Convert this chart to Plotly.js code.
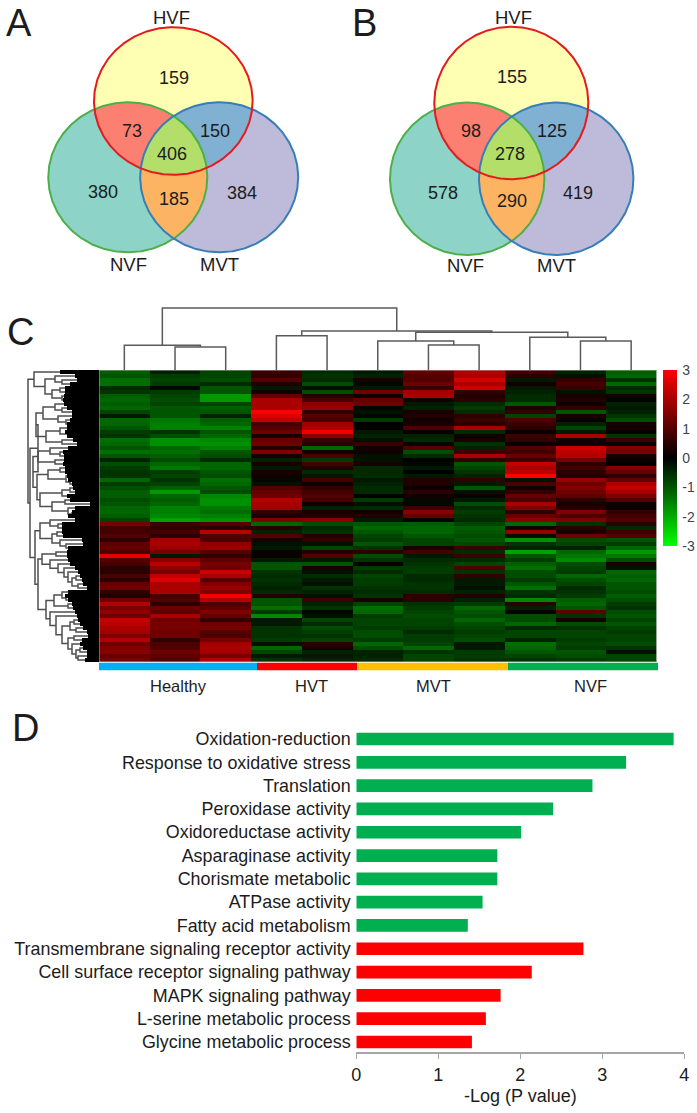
<!DOCTYPE html>
<html><head><meta charset="utf-8">
<script src="https://cdn.plot.ly/plotly-3.0.1.min.js"></script>
<style>html,body{margin:0;padding:0;background:#fff}</style></head>
<body><div id="chart" style="width:697px;height:1113px"></div>
<script>
// ---------- Panel A / B values ----------
const vennCountsA = [159, 73, 150, 406, 380, 185, 384];
const vennCountsB = [155, 98, 125, 278, 578, 290, 419];
const vennSets = ['HVF', 'NVF', 'MVT'];

// ---------- Panel C values (one array per sample, rows top to bottom) ----------
const healthy1 = [-1.1,-1.0,-1.3,-1.3,-0.5,-0.6,-1.1,-1.2,-1.1,-1.2,-0.8,-0.3,-1.2,-1.2,-1.0,-0.7,-0.6,-1.3,-1.2,-1.0,-1.3,-1.0,-0.4,-0.9,
 -0.7,-0.6,-0.6,-1.2,-0.7,-0.9,-1.1,-1.1,-0.9,-1.0,-1.2,-1.2,-1.1,-0.8,1.4,0.8,0.8,1.0,0.5,1.1,1.2,0.9,2.7,1.0,0.8,
 0.5,0.5,0.9,0.5,1.2,1.3,0.6,0.4,1.3,2.1,1.4,1.7,1.3,2.3,2.2,2.0,1.9,1.5,2.1,1.3,1.5,1.6,1.2,1.4];
const healthy2 = [-0.4,-0.7,-0.8,-0.7,-0.1,-0.7,-0.8,-0.9,-0.8,-1.0,-1.0,-1.0,-1.4,-1.5,-1.5,-0.6,-0.9,-1.7,-1.7,-1.2,-1.3,-1.1,-0.9,-1.2,
 -1.4,-0.7,-0.8,-0.6,-0.8,-1.1,-1.8,-1.2,-1.1,-1.2,-1.5,-1.5,-1.6,-1.9,0.7,0.6,0.8,0.5,1.9,2.0,1.8,1.4,-0.3,1.6,2.2,
 1.7,1.4,2.3,2.6,2.0,2.0,2.0,0.8,1.0,0.5,1.3,1.1,2.0,1.3,1.4,1.4,1.3,1.3,0.6,0.9,1.0,1.3,1.1,1.0];
const healthy3 = [-0.8,-0.8,-0.9,-0.5,-1.0,-1.0,-1.8,-1.8,-0.8,-1.1,-1.0,-0.4,-1.1,-1.2,-1.5,-1.0,-1.2,-1.6,-1.7,-1.5,-1.0,-0.9,-0.5,-1.2,
 -1.2,-1.0,-0.9,-1.3,-1.2,-1.0,-0.9,-1.6,-1.7,-1.7,-1.4,-1.3,-1.5,-1.7,1.0,0.5,2.2,1.0,0.9,1.7,1.8,1.0,0.6,1.1,1.4,
 1.3,2.4,2.0,1.0,1.5,1.8,1.5,2.9,2.1,0.9,1.1,1.5,1.2,0.6,1.3,1.4,1.0,0.9,1.4,1.9,2.0,1.9,1.4,2.1];
const hvt1 = [0.7,0.6,1.0,0.4,-0.3,0.2,1.2,2.0,2.0,2.0,3.0,2.6,2.3,0.8,1.0,1.3,0.3,1.2,1.3,0.4,1.5,0.3,-0.4,0.3,
 -0.3,0.3,0.2,-0.1,-0.2,1.0,1.2,1.3,2.1,2.0,1.9,0.6,0.3,1.5,-1.2,0.5,-0.4,1.0,0.3,-0.2,-0.3,0.1,0.1,-0.3,-1.0,
 -1.0,-0.6,-0.5,-0.6,-0.5,-0.4,-0.5,0.4,-1.0,-1.0,-1.3,-0.7,-1.6,-0.3,-0.3,-0.6,-0.6,-0.6,-0.7,-0.2,-1.2,-0.8,-0.3,-0.6];
const hvt2 = [-0.5,-0.6,-0.5,-0.9,-0.2,-0.9,0.4,0.8,1.6,1.8,0.5,1.0,0.8,1.9,2.0,2.8,1.6,0.7,0.5,-1.2,0.2,0.9,-0.7,0.8,
 0.4,-0.5,-0.3,0.8,0.2,0.6,0.8,1.0,0.8,0.2,-0.4,0.3,0.4,1.6,-0.9,-0.5,-0.6,0.4,0.6,-0.2,-0.8,0.4,1.0,-0.3,-1.0,
 0.3,-0.2,-0.5,-0.3,-0.2,-0.6,-0.4,-0.2,0.7,-0.4,-0.6,-0.1,-0.2,-0.8,-0.5,-0.9,-0.7,-0.6,-0.8,0.5,0.3,-0.4,-0.3,-0.4];
const mvt1 = [-0.3,-0.4,0.3,-0.1,-0.3,1.3,0.2,1.2,1.3,-0.1,-0.2,-0.1,-0.7,0.0,0.0,-0.3,-0.4,-0.2,0.7,0.2,0.2,-0.2,-0.2,0.3,
 -0.5,-0.5,-0.5,-0.3,-0.4,-0.5,-0.5,0.0,-0.7,-0.2,-0.5,0.2,0.4,-0.3,-1.0,-1.2,-1.0,-0.8,-0.7,-1.0,-0.6,0.5,-0.9,-0.6,0.1,
 -0.7,-0.5,-0.8,-0.7,-0.7,-0.6,-0.5,-0.6,0.3,-0.8,-1.3,-1.2,-0.7,-0.8,-0.8,-0.7,-0.9,-0.9,-0.7,-1.2,-0.9,-0.4,-0.4,-0.5];
const mvt2 = [1.2,1.0,1.0,1.3,0.7,1.9,2.0,0.2,-0.3,-0.4,0.3,0.4,0.2,0.3,0.9,0.1,-0.4,-0.5,-0.1,1.0,-0.9,-0.5,0.0,-0.1,
 -0.3,0.0,-0.3,0.4,0.4,0.1,0.5,0.2,-0.1,-0.1,0.7,1.6,1.2,0.1,-1.1,-1.2,-1.2,-1.0,-0.8,-0.8,0.3,0.8,-0.3,-0.5,-0.6,
 -0.7,-0.7,-0.5,-0.5,-0.6,-0.6,-0.5,0.5,0.5,-0.6,-0.7,-0.8,-0.9,-0.8,-0.8,-0.7,-0.5,-0.7,-0.7,-0.8,-1.2,-0.6,-0.8,-0.8];
const mvt3 = [2.1,2.0,2.5,2.0,2.4,0.6,0.4,0.5,-0.5,-0.7,-0.5,0.5,0.7,0.5,2.0,-0.5,0.2,0.3,-0.6,-0.4,0.7,2.0,0.6,-1.0,
 -0.8,-0.6,-0.4,0.6,-0.3,-1.0,-0.2,0.1,-0.3,-0.9,-0.5,-0.7,-0.6,-0.5,-0.8,-1.1,-1.0,-0.9,-1.0,-0.8,0.7,-0.5,0.7,-0.5,-0.8,
 0.9,-0.6,0.6,-0.3,-0.3,-0.2,-0.4,0.4,-0.4,-0.7,-1.2,-1.0,-0.9,-1.2,-0.9,-0.8,-0.7,-0.8,-0.9,-0.3,-0.3,-0.7,-0.7,-0.6];
const nvf1 = [0.8,0.5,-0.3,0.2,-0.3,-0.4,-0.5,-0.5,-1.0,0.4,0.6,-0.8,0.9,0.7,0.5,0.1,0.7,0.6,0.1,1.0,0.8,1.2,0.7,2.3,
 2.0,2.2,3.0,-0.2,0.9,0.2,0.6,1.2,0.9,2.0,1.5,0.5,1.2,1.6,-1.2,0.2,1.8,-0.2,-1.7,-0.6,-0.4,-1.9,-1.0,-0.7,-1.1,
 -1.3,-0.9,-0.9,-0.7,-1.0,-1.3,-0.6,-0.5,-1.6,0.5,-0.4,0.1,-0.9,-0.9,-1.2,-0.5,-0.8,-0.8,-0.4,-1.3,-1.2,-1.0,-0.8,-0.6];
const nvf2 = [-0.4,-0.2,0.6,0.8,0.7,-0.2,0.3,0.4,0.2,0.6,-1.0,0.3,0.1,-0.4,-0.8,-0.3,2.0,0.3,0.2,2.4,2.2,2.1,1.4,0.5,
 0.8,0.5,0.4,1.8,1.3,1.5,1.3,1.1,0.5,0.3,0.4,1.5,0.9,1.5,-0.6,0.5,0.3,1.3,-0.9,-0.8,-0.4,-1.2,-1.4,-1.6,-0.9,
 -0.8,-0.7,-1.2,-0.9,-0.8,-0.5,-0.6,-0.7,-1.1,-1.2,-1.0,1.1,-0.6,0.3,-0.9,-0.6,-0.8,-0.8,-0.7,-0.8,-0.7,-1.0,-0.9,-0.7];
const nvf3 = [-1.1,-1.2,-0.6,-1.2,-0.5,-0.6,0.2,0.0,-0.4,-0.3,-0.4,-0.6,-0.9,0.3,0.2,0.1,-0.6,0.7,0.2,1.5,1.4,0.3,0.1,0.0,
 1.5,1.2,0.5,1.2,2.0,2.3,1.9,1.5,1.0,0.2,0.1,0.6,0.8,1.0,0.5,-0.5,0.7,1.0,-1.0,-0.7,-1.2,-1.8,-1.4,-0.9,0.3,
 -0.2,-1.2,-1.1,-1.2,-1.0,-1.0,-0.9,-1.1,-0.9,-0.7,-0.6,-0.9,-1.0,-0.8,-1.0,-0.8,-0.7,-0.8,-0.8,-0.9,-0.6,-0.2,-0.8,-0.8];
const heatColumns = [healthy1, healthy2, healthy3, hvt1, hvt2, mvt1, mvt2, mvt3, nvf1, nvf2, nvf3];
const colorTicks = [3, 2, 1, 0, -1, -2, -3];
const groupNames = ['Healthy', 'HVT', 'MVT', 'NVF'];
const groupEdges = [99, 257, 357, 508, 658];

// Sample dendrogram: [merge height, left, right]; a number is a sample index
const sampleTree = [308,[345.3,0,[347,1,2]],[331,[335.7,3,4],[332.3,[341,5,[345,6,7]],[337.3,8,[341,9,10]]]]];
// Gene dendrogram: [merge depth, upper, lower]; a number is a heatmap row
const geneTreeTop = [34,0,[45,[55,1,[62,2,3]],[52,[60,4,5],[62,6,7]]]];
const geneTreeRest = [38,[36,[43,[55,8,[62,9,10]],[58,11,[66,12,13]]],[46,[60,14,[68,15,16]],[62,17,18]]],
  [33,[38,[50,19,[60,20,21]],[55,22,23]],[37,[48,[60,24,25],[66,26,[70,27,28]]],[40,[62,[70,29,30],31],[52,[65,32,33],[68,34,[72,35,36]]]]]]];
const geneTreeLower = [35,[40,[50,37,[58,38,39]],[52,[57,40,41],[60,42,[66,43,44]]]],
  [38,[42,[56,45,46],[50,47,[58,48,[64,49,[68,50,[72,[76,51,52],[78,53,54]]]]]]],
   [46,[54,[62,55,[66,56,57]],[68,58,59]],[50,60,[56,61,[62,[70,[74,62,63],[76,64,65]],[68,[74,66,67],[72,68,[76,[80,69,70],[78,71,72]]]]]]]]]];
const geneLeafEdge = [60,75,77,70,65,65,64,63,64,67,72,72,70,67,67,65,67,73,77,68,63,64,64,63,65,65,67,68,72,73,75,67,70,90,75,72,68,75,
  62,62,62,63,82,83,68,67,67,68,70,75,78,80,82,83,87,68,65,68,72,73,75,77,78,80,83,87,88,82,80,83,87,87,85];

// ---------- Panel D values ----------
const goTerms = ['Oxidation-reduction','Response to oxidative stress','Translation','Peroxidase activity','Oxidoreductase activity','Asparaginase activity','Chorismate metabolic','ATPase activity','Fatty acid metabolism','Transmembrane signaling receptor activity','Cell surface receptor signaling pathway','MAPK signaling pathway','L-serine metabolic process','Glycine metabolic process'];
const goLogP = [3.87,3.29,2.88,2.40,2.01,1.72,1.72,1.54,1.36,2.77,2.14,1.76,1.58,1.41];
const goColors = ['#00b050','#00b050','#00b050','#00b050','#00b050','#00b050','#00b050','#00b050','#00b050','#ff0000','#ff0000','#ff0000','#ff0000','#ff0000'];

// ---------- Layout geometry ----------
const W = 697, H = 1113, TXT = '#1c1c1c', FONT = 'Liberation Sans, Arial, sans-serif';
const vennLayoutA = {
  ell: [[173.3,101,79.3,73.8],[127.8,177.3,79.5,75],[219.2,177.3,79,75]],
  counts: [[174,78],[131.7,130.7],[215,130.7],[172.3,154],[102.7,192.3],[174.3,199],[242.3,192.7]],
  sets: [[171.7,17.3],[128.3,264.3],[219,264.3]]
};
const vennLayoutB = {
  ell: [[511.3,103,77,76.3],[467.2,178.8,77.2,76.2],[556.2,178.8,77.2,76.2]],
  counts: [[512.3,76.7],[470.7,131],[551.7,131],[510.3,154.3],[442.7,193.3],[511.7,200.7],[578,193.3]],
  sets: [[513.7,17.3],[465,265],[556.7,265]]
};
const setFill = ['#ffffb3','#8dd3c7','#bebada'];
const lensFill = {'0,1':'#fb8072','0,2':'#80b1d3','1,2':'#fdb462','0,1,2':'#b3de69'};
const setLine = ['#e41a1c','#4daf4a','#377eb8'];

function ellipsePts(e, n=360){ const p=[]; for(let i=0;i<=n;i++){const a=i/n*2*Math.PI; p.push([e[0]+e[2]*Math.cos(a), e[1]+e[3]*Math.sin(a)]);} return p; }
function inside(p,e){ const a=(p[0]-e[0])/e[2], b=(p[1]-e[1])/e[3]; return a*a+b*b<=1.0000001; }
function lens(ells, ids){
  let pts=[];
  ids.forEach(i=>{ ellipsePts(ells[i],1440).forEach(p=>{ if(ids.every(j=>inside(p,ells[j]))) pts.push(p); }); });
  const cx=pts.reduce((s,p)=>s+p[0],0)/pts.length, cy=pts.reduce((s,p)=>s+p[1],0)/pts.length;
  pts.sort((a,b)=>Math.atan2(a[1]-cy,a[0]-cx)-Math.atan2(b[1]-cy,b[0]-cx));
  pts.push(pts[0]); return pts;
}
function poly(pts, color){ return {type:'scatter',mode:'none',x:pts.map(p=>p[0]),y:pts.map(p=>p[1]),fill:'toself',fillcolor:color,hoverinfo:'skip',showlegend:false,xaxis:'x',yaxis:'y'}; }
function outline(pts, color){ return {type:'scatter',mode:'lines',x:pts.map(p=>p[0]),y:pts.map(p=>p[1]),line:{color:color,width:2},hoverinfo:'skip',showlegend:false,xaxis:'x',yaxis:'y'}; }

const traces=[], notes=[];
function note(x,y,text,size){ notes.push({xref:'x',yref:'y',x,y,text:String(text),showarrow:false,xanchor:'center',yanchor:'middle',font:{family:FONT,size,color:TXT}}); }
function drawVenn(g, counts){
  [1,2,0].forEach(i=>traces.push(poly(ellipsePts(g.ell[i]),setFill[i])));
  Object.keys(lensFill).forEach(k=>traces.push(poly(lens(g.ell,k.split(',').map(Number)),lensFill[k])));
  [1,2,0].forEach(i=>traces.push(outline(ellipsePts(g.ell[i]),setLine[i])));
  counts.forEach((c,i)=>note(g.counts[i][0],g.counts[i][1],c,18));
  vennSets.forEach((s,i)=>note(g.sets[i][0],g.sets[i][1],s,18.5));
}
drawVenn(vennLayoutA, vennCountsA);
drawVenn(vennLayoutB, vennCountsB);

// Panel letters
[['A',19,23],['B',364,23],['C',20,332],['D',25,728]].forEach(l=>note(l[1],l[2],l[0],38));

// Group strip under the heatmap
traces.push({type:'bar',orientation:'h',y:[666.5,666.5,666.5,666.5],base:groupEdges.slice(0,4),
  x:groupEdges.slice(1).map((e,i)=>e-groupEdges[i]),width:[7.5,7.5,7.5,7.5],
  marker:{color:['#00b0f0','#ff0000','#ffc000','#00b050'],line:{width:0}},hoverinfo:'skip',showlegend:false,xaxis:'x',yaxis:'y'});
const groupCentre=[178,311,433,590];
groupNames.forEach((g,i)=>note(groupCentre[i],685.5,g,16.5));

// Heatmap: rows by samples
const nRows = heatColumns[0].length;
const heatZ = [];
for(let r=0;r<nRows;r++) heatZ.push(heatColumns.map(c=>c[r]));
traces.push({type:'heatmap',z:heatZ,xaxis:'x2',yaxis:'y2',zmin:-3,zmax:3,zsmooth:false,hoverinfo:'skip',
  colorscale:[[0,'#00ff00'],[0.5,'#000000'],[1,'#ff0000']],
  colorbar:{thicknessmode:'pixels',thickness:13.5,lenmode:'pixels',len:175.7,xref:'paper',yref:'paper',x:663.3/W,xanchor:'left',xpad:0,y:1-370/H,yanchor:'top',ypad:0,
    outlinewidth:0,ticks:'outside',ticklen:3,tickcolor:'rgba(0,0,0,0)',tickmode:'array',tickvals:colorTicks,ticktext:colorTicks.map(String),tickfont:{family:FONT,size:14,color:'#3d4450'}}});
// thin frame round the heatmap
traces.push({type:'scatter',mode:'lines',x:[-0.5,10.5,10.5,-0.5,-0.5],y:[-0.5,-0.5,nRows-0.5,nRows-0.5,-0.5],xaxis:'x2',yaxis:'y2',line:{color:'#b0b0b0',width:1},hoverinfo:'skip',showlegend:false,cliponaxis:false});

// Dendrograms
function segs(node, leafCoord, leafDepth, xs, ys, horizontalTree){
  if(typeof node==='number') return {pos:leafCoord(node), depth:leafDepth(node)};
  const a=segs(node[1],leafCoord,leafDepth,xs,ys,horizontalTree), b=segs(node[2],leafCoord,leafDepth,xs,ys,horizontalTree), h=node[0];
  const pts=[[a.depth,a.pos],[h,a.pos],[h,b.pos],[b.depth,b.pos]];
  pts.forEach(p=>{ if(horizontalTree){xs.push(p[0]);ys.push(p[1]);} else {xs.push(p[1]);ys.push(p[0]);} });
  xs.push(null);ys.push(null);
  return {pos:(a.pos+b.pos)/2, depth:h};
}
// sample tree: x on the heatmap's column scale, y on the page scale
const sx=[],sy=[]; segs(sampleTree,i=>i,()=>370,sx,sy,false);
traces.push({type:'scatter',mode:'lines',x:sx,y:sy,xaxis:'x2',yaxis:'y',line:{color:'#5a5a5a',width:1.5},hoverinfo:'skip',showlegend:false,cliponaxis:false});
// gene tree: y on the heatmap's row scale, x on the page scale
const gx=[],gy=[];
const treeA=segs(geneTreeTop,i=>i,i=>geneLeafEdge[i],gx,gy,true);
const treeB=segs(geneTreeRest,i=>i,i=>geneLeafEdge[i],gx,gy,true);
const treeC=segs(geneTreeLower,i=>i,i=>geneLeafEdge[i],gx,gy,true);
const treeMid=(treeB.pos+treeC.pos)/2;
gx.push(treeB.depth,30,30,treeC.depth,null); gy.push(treeB.pos,treeB.pos,treeC.pos,treeC.pos,null);
gx.push(treeA.depth,28,28,30,null); gy.push(treeA.pos,treeA.pos,treeMid,treeMid,null);
traces.push({type:'scatter',mode:'lines',x:gx,y:gy,xaxis:'x',yaxis:'y2',line:{color:'#4f4f4f',width:1.5},hoverinfo:'skip',showlegend:false,cliponaxis:false});
// solid black mass of the finest gene branches, reaching each row's leaf edge
const edgeX=[],edgeY=[];
geneLeafEdge.forEach((e,i)=>{edgeX.push(e,e);edgeY.push(i-0.5,i+0.5);});
edgeX.push(99,99,edgeX[0]); edgeY.push(nRows-0.5,-0.5,edgeY[0]);
traces.push({type:'scatter',mode:'none',x:edgeX,y:edgeY,xaxis:'x',yaxis:'y2',fill:'toself',fillcolor:'#000000',hoverinfo:'skip',showlegend:false});

// Panel D bars
traces.push({type:'bar',orientation:'h',y:goTerms,x:goLogP,marker:{color:goColors,line:{width:0}},xaxis:'x3',yaxis:'y3',hoverinfo:'x+y',showlegend:false});

const hidden = {visible:false,fixedrange:true,showgrid:false,zeroline:false};
const layout = {
  width:W,height:H,margin:{l:0,r:0,t:0,b:0,pad:0},paper_bgcolor:'#fff',plot_bgcolor:'rgba(0,0,0,0)',showlegend:false,
  bargap:0.455,barmode:'overlay',font:{family:FONT,color:TXT},
  xaxis:{...hidden,domain:[0,1],range:[0,W],anchor:'y'},
  yaxis:{...hidden,domain:[0,1],range:[H,0],anchor:'x'},
  xaxis2:{...hidden,domain:[99/W,656.5/W],range:[-0.5,10.5],anchor:'y2'},
  yaxis2:{...hidden,domain:[1-662/H,1-370/H],range:[nRows-0.5,-0.5],anchor:'x2'},
  xaxis3:{domain:[356.3/W,684.3/W],range:[0,4],anchor:'y3',showgrid:false,zeroline:false,showline:true,linecolor:'#a6a6a6',linewidth:2,ticks:'outside',ticklen:5,tickwidth:1.5,tickcolor:'#a6a6a6',tickvals:[0,1,2,3,4],tickfont:{family:FONT,size:18,color:TXT},
    title:{text:'-Log (P value)',font:{family:FONT,size:18,color:TXT},standoff:6},fixedrange:true},
  yaxis3:{domain:[1-1052/H,1-727.35/H],type:'category',range:[13.43,-0.5],anchor:'x3',showgrid:false,zeroline:false,showline:false,ticks:'outside',ticklen:1,tickcolor:'rgba(0,0,0,0)',tickfont:{family:FONT,size:17.9,color:TXT},automargin:false,fixedrange:true},
  annotations:notes
};
Plotly.newPlot('chart',traces,layout,{displayModeBar:false,staticPlot:true});
</script></body></html>
